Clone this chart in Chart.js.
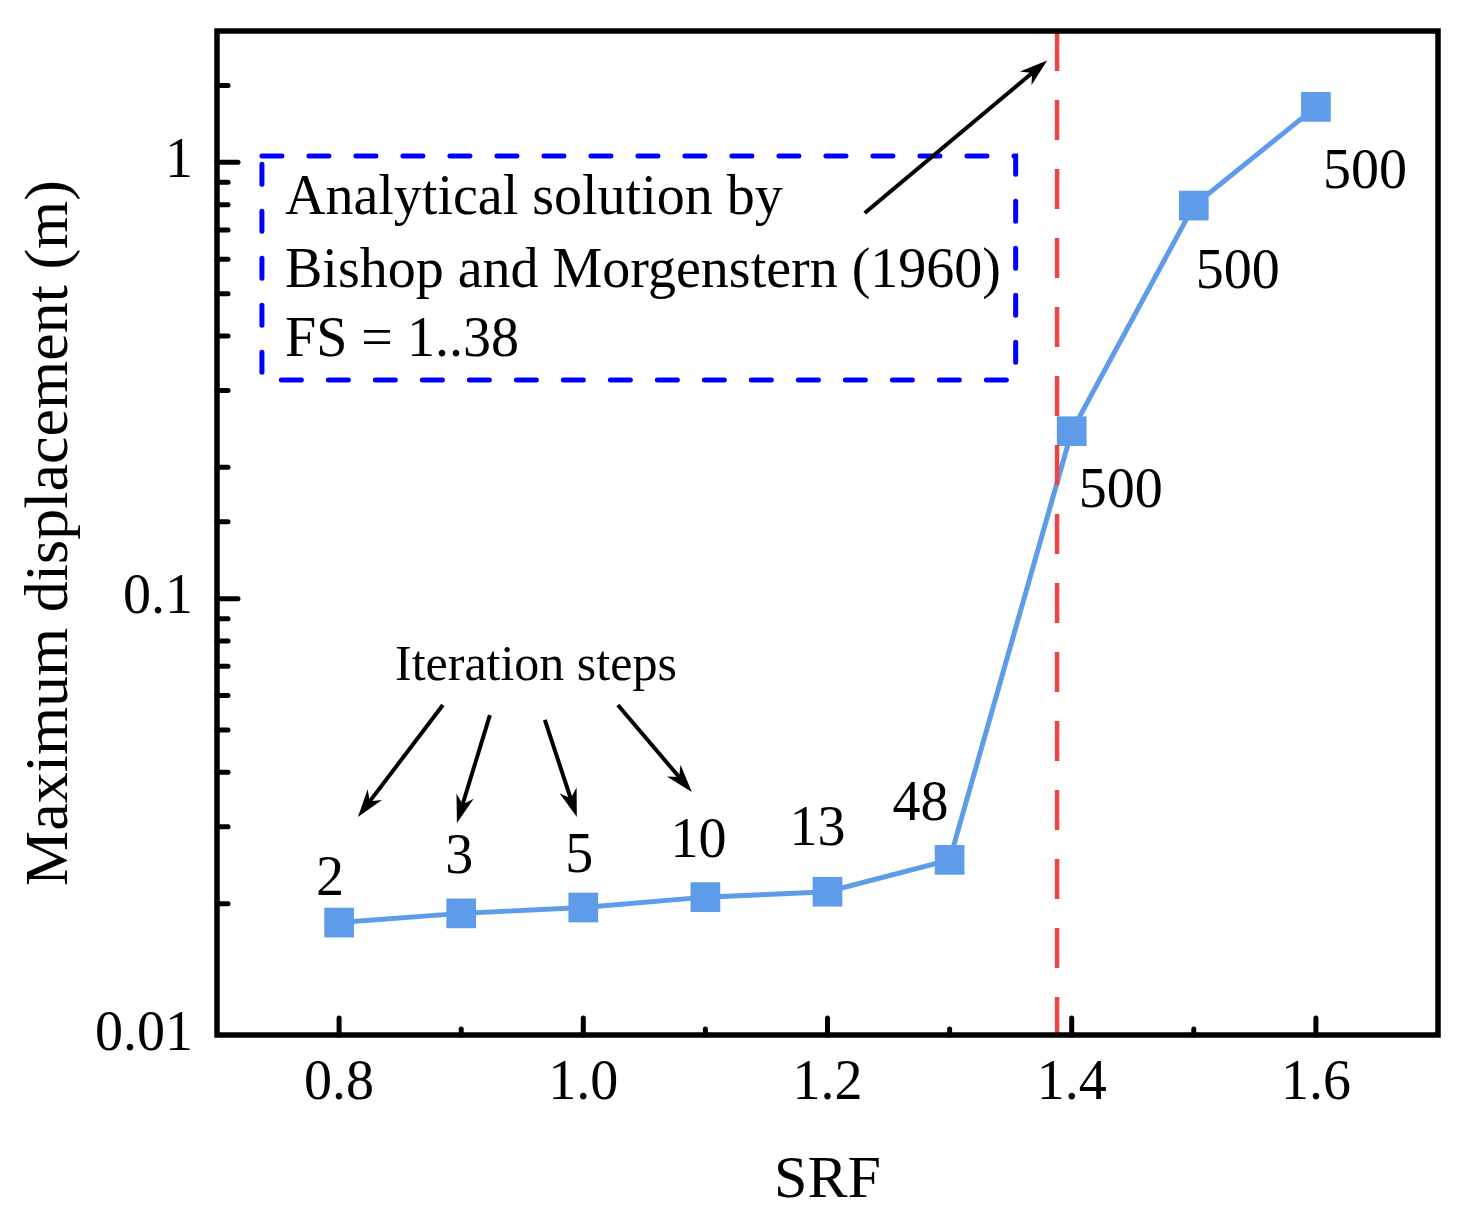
<!DOCTYPE html>
<html>
<head>
<meta charset="utf-8">
<title>Maximum displacement vs SRF</title>
<script src="https://cdn.jsdelivr.net/npm/chart.js@4.4.1/dist/chart.umd.min.js"></script>
<style>
  html, body { margin: 0; padding: 0; background: #fff; }
</style>
</head>
<body>
<canvas id="dispChart" width="1468" height="1217"></canvas>
<script>
// values
const srf = [0.8, 0.9, 1.0, 1.1, 1.2, 1.3, 1.4, 1.5, 1.6];
const maxDisp = [0.0181, 0.0190, 0.0196, 0.0207, 0.0213, 0.0252, 0.242, 0.796, 1.34];
const iterSteps = [2, 3, 5, 10, 13, 48, 500, 500, 500];
const xTickLabels = ['0.8', '1.0', '1.2', '1.4', '1.6'];
const yTickLabels = ['0.01', '0.1', '1'];
const analyticalSRF = 1.388; // red dashed line
const noteLines = ['Analytical solution by', 'Bishop and Morgenstern (1960)', 'FS = 1..38'];

// label placement around each point (px: dx, dy of baseline)
const labelOffsets = [[-9, -28], [-2, -40], [-4, -35], [-7, -40], [-10, -47], [-29, -40], [49, 76], [44, 82], [49, 81]];

// annotations in data units (SRF, displacement)
const noteBox = { x1: 0.7368, x2: 1.3541, y1: 1.0344, y2: 0.3172 };
const noteTextX = 0.7557;
const noteTextY = [0.7617, 0.5181, 0.3600];
const bigArrow = [1.2305, 0.7656, 1.3799, 1.712];
const stepArrows = [
  [0.8850, 0.05706, 0.8154, 0.03160],
  [0.9235, 0.05411, 0.8965, 0.03061],
  [0.9685, 0.05272, 0.9947, 0.03160],
  [1.0283, 0.05706, 1.0889, 0.03606]
];
const stepsTitle = { text: 'Iteration steps', x: 0.9612, y: 0.06512 };

const FONT = "'Liberation Serif', 'Times New Roman', serif";
const lineBlue = '#5e9be8';

function isDecade(v) {
  const l = Math.log10(v);
  return Math.abs(l - Math.round(l)) < 1e-6;
}

function drawArrow(ctx, x1, y1, x2, y2) {
  const ang = Math.atan2(y2 - y1, x2 - x1);
  const head = 28, half = 9;
  const c = Math.cos(ang), s = Math.sin(ang);
  ctx.beginPath();
  ctx.moveTo(x1, y1);
  ctx.lineTo(x2 - c * head * 0.7, y2 - s * head * 0.7);
  ctx.stroke();
  ctx.beginPath();
  ctx.moveTo(x2, y2);
  ctx.lineTo(x2 - c * head - s * half, y2 - s * head + c * half);
  ctx.lineTo(x2 - c * head * 0.7, y2 - s * head * 0.7);
  ctx.lineTo(x2 - c * head + s * half, y2 - s * head - c * half);
  ctx.closePath();
  ctx.fill();
}

const extras = {
  id: 'extras',
  afterDatasetsDraw(chart) {
    const { ctx, chartArea: a, scales: { x, y } } = chart;
    ctx.save();

    // analytical FS line
    const fx = x.getPixelForValue(analyticalSRF);
    ctx.strokeStyle = '#ec4343';
    ctx.lineWidth = 4.5;
    ctx.setLineDash([40, 29]);
    ctx.beginPath();
    ctx.moveTo(fx, a.top);
    ctx.lineTo(fx, a.bottom);
    ctx.stroke();

    // dashed note box
    ctx.strokeStyle = '#0000ff';
    ctx.lineWidth = 5;
    ctx.lineCap = 'round';
    ctx.setLineDash([20, 27]);
    const bx1 = x.getPixelForValue(noteBox.x1), bx2 = x.getPixelForValue(noteBox.x2);
    const by1 = y.getPixelForValue(noteBox.y1), by2 = y.getPixelForValue(noteBox.y2);
    ctx.strokeRect(bx1, by1, bx2 - bx1, by2 - by1);
    ctx.setLineDash([]);

    ctx.fillStyle = '#000';
    ctx.textBaseline = 'alphabetic';
    ctx.font = '56px ' + FONT;
    ctx.textAlign = 'left';
    noteLines.forEach((t, i) => {
      ctx.fillText(t, x.getPixelForValue(noteTextX), y.getPixelForValue(noteTextY[i]));
    });

    // arrows
    ctx.strokeStyle = '#000';
    ctx.lineWidth = 4;
    ctx.lineCap = 'butt';
    const ba = bigArrow;
    drawArrow(ctx, x.getPixelForValue(ba[0]), y.getPixelForValue(ba[1]), x.getPixelForValue(ba[2]), y.getPixelForValue(ba[3]));
    stepArrows.forEach(r => {
      drawArrow(ctx, x.getPixelForValue(r[0]), y.getPixelForValue(r[1]), x.getPixelForValue(r[2]), y.getPixelForValue(r[3]));
    });

    ctx.font = '50px ' + FONT;
    ctx.textAlign = 'center';
    ctx.fillText(stepsTitle.text, x.getPixelForValue(stepsTitle.x), y.getPixelForValue(stepsTitle.y));

    // iteration counts next to the points
    ctx.font = '56px ' + FONT;
    const meta = chart.getDatasetMeta(0);
    meta.data.forEach((pt, i) => {
      const off = labelOffsets[i];
      ctx.fillText(String(iterSteps[i]), pt.x + off[0], pt.y + off[1]);
    });
    ctx.restore();
  },
  afterDraw(chart) {
    const { ctx, chartArea: a, scales: { x, y } } = chart;
    ctx.save();
    ctx.strokeStyle = '#000';
    ctx.lineWidth = 5;
    ctx.lineCap = 'round';
    // inward ticks
    y.ticks.forEach(t => {
      const py = y.getPixelForValue(t.value);
      if (py < a.top + 3 || py > a.bottom - 3) return;
      const len = isDecade(t.value) ? 21 : 11;
      ctx.beginPath();
      ctx.moveTo(a.left, py);
      ctx.lineTo(a.left + len, py);
      ctx.stroke();
    });
    x.ticks.forEach(t => {
      const px = x.getPixelForValue(t.value);
      if (px < a.left + 3 || px > a.right - 3) return;
      const len = t.label ? 17 : 6;
      ctx.beginPath();
      ctx.moveTo(px, a.bottom);
      ctx.lineTo(px, a.bottom - len);
      ctx.stroke();
    });
    // frame
    ctx.lineWidth = 5.5;
    ctx.lineCap = 'square';
    ctx.strokeRect(a.left, a.top, a.right - a.left, a.bottom - a.top);
    ctx.restore();
  }
};

const ctx = document.getElementById('dispChart').getContext('2d');
new Chart(ctx, {
  type: 'line',
  data: {
    datasets: [{
      data: srf.map((v, i) => ({ x: v, y: maxDisp[i] })),
      borderColor: lineBlue,
      backgroundColor: lineBlue,
      borderWidth: 5,
      tension: 0,
      pointStyle: 'rect',
      pointRadius: 21,
      pointBorderWidth: 0,
      pointBackgroundColor: lineBlue,
      clip: false
    }]
  },
  options: {
    responsive: false,
    animation: false,
    layout: { padding: { top: 31, right: 30, left: 0, bottom: 0 } },
    plugins: { legend: { display: false }, tooltip: { enabled: false } },
    scales: {
      x: {
        type: 'linear',
        min: 0.7,
        max: 1.7,
        grid: { display: false, drawTicks: false },
        border: { display: false },
        ticks: {
          stepSize: 0.1,
          autoSkip: false,
          maxRotation: 0,
          padding: 16,
          color: '#000',
          font: { family: FONT, size: 56 },
          callback: v => {
            const s = Number(v).toFixed(1);
            return xTickLabels.includes(s) ? s : '';
          }
        },
        title: { display: true, text: 'SRF', color: '#000', font: { family: FONT, size: 60 }, padding: { top: 0, bottom: 0 } },
        afterFit: s => {
          s.height = 182;
          s.paddingLeft = 0;
          s.paddingRight = 0;
        }
      },
      y: {
        type: 'logarithmic',
        min: 0.01,
        max: 2,
        grid: { display: false, drawTicks: false },
        border: { display: false },
        ticks: {
          autoSkip: false,
          padding: 24,
          color: '#000',
          font: { family: FONT, size: 56 },
          callback: v => {
            if (!isDecade(v)) return '';
            return yTickLabels.find(l => Math.abs(parseFloat(l) - v) < 1e-9) || '';
          }
        },
        title: { display: true, text: 'Maximum displacement (m)', color: '#000', font: { family: FONT, size: 62 }, padding: { top: 14, bottom: 0 } },
        afterFit: s => {
          s.width = 217;
          s.paddingTop = 0;
          s.paddingBottom = 0;
        }
      }
    }
  },
  plugins: [extras]
});
</script>
</body>
</html>
